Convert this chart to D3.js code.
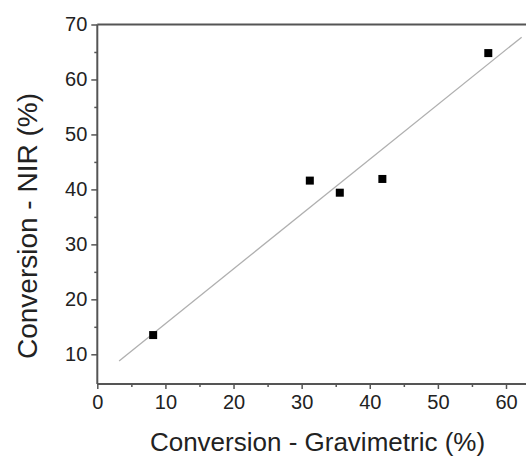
<!DOCTYPE html>
<html><head><meta charset="utf-8">
<script src="https://cdn.jsdelivr.net/npm/d3@7"></script>
<style>body{margin:0;background:#fff}svg{display:block}text{font-family:"Liberation Sans",Arial,sans-serif;fill:#222}</style>
</head><body>
<svg id="c" width="526" height="459"></svg>
<script>
const gravimetric = [8.2, 31.2, 35.6, 41.85, 57.4];
const nir = [13.5, 41.6, 39.4, 41.9, 64.8];
const fitX = [3.2, 62.3];
const fitY = [8.8, 67.7];
const xTicks = [0, 10, 20, 30, 40, 50, 60];
const yTicks = [10, 20, 30, 40, 50, 60, 70];
const xMinor = [5, 15, 25, 35, 45, 55];
const yMinor = [15, 25, 35, 45, 55, 65];

const svg = d3.select("#c");
const x = d3.scaleLinear().domain([0, 60]).range([97.3, 506]);
const y = d3.scaleLinear().domain([10, 70]).range([354.3, 24.5]);
const xMax = x.invert(527), yMin = y.invert(384);

const axisColor = "#555";
// fit line
svg.append("line")
  .attr("x1", x(fitX[0])).attr("y1", y(fitY[0]))
  .attr("x2", x(fitX[1])).attr("y2", y(fitY[1]))
  .attr("stroke", "#b0b0b0").attr("stroke-width", 1.3);

// bottom axis
const gx = svg.append("g").attr("transform", `translate(0,${y(yMin)})`)
  .call(d3.axisBottom(x).tickValues(xTicks).tickSize(5).tickPadding(6).tickFormat(d3.format("d")));
gx.select(".domain").attr("d", `M${x(0)},0H${x(xMax)}`);
svg.append("g").attr("transform", `translate(0,${y(yMin)})`)
  .call(d3.axisBottom(x).tickValues(xMinor).tickSize(3).tickFormat(""))
  .select(".domain").remove();

// left axis
const gy = svg.append("g").attr("transform", `translate(${x(0)},0)`)
  .call(d3.axisLeft(y).tickValues(yTicks).tickSize(6).tickPadding(4).tickFormat(d3.format("d")));
gy.select(".domain").attr("d", `M0,${y(yMin)}V${y(70)}`);
svg.append("g").attr("transform", `translate(${x(0)},0)`)
  .call(d3.axisLeft(y).tickValues(yMinor).tickSize(3).tickFormat(""))
  .select(".domain").remove();

// top frame
svg.append("line").attr("x1", x(0)).attr("x2", x(xMax)).attr("y1", y(70)).attr("y2", y(70))
  .attr("stroke", axisColor).attr("stroke-width", 2);

svg.selectAll(".domain").attr("stroke", axisColor).attr("stroke-width", 2);
svg.selectAll(".tick line").attr("stroke", axisColor).attr("stroke-width", 1.5);
svg.selectAll(".tick text").attr("font-size", 20).attr("fill", "#333")
  .style("font-family", '"Liberation Sans",Arial,sans-serif');

// points
svg.selectAll("rect.pt").data(gravimetric).enter().append("rect").attr("class", "pt")
  .attr("x", (d) => x(d) - 4).attr("y", (d, i) => y(nir[i]) - 4)
  .attr("width", 8).attr("height", 8).attr("fill", "#000");

// titles
svg.append("text").attr("x", 317.5).attr("y", 451).attr("text-anchor", "middle")
  .attr("font-size", 26).attr("fill", "#222").text("Conversion - Gravimetric (%)");
svg.append("text").attr("transform", "translate(37,226) rotate(-90)").attr("text-anchor", "middle")
  .attr("font-size", 28).attr("fill", "#222").text("Conversion - NIR (%)");
</script>
</body></html>
